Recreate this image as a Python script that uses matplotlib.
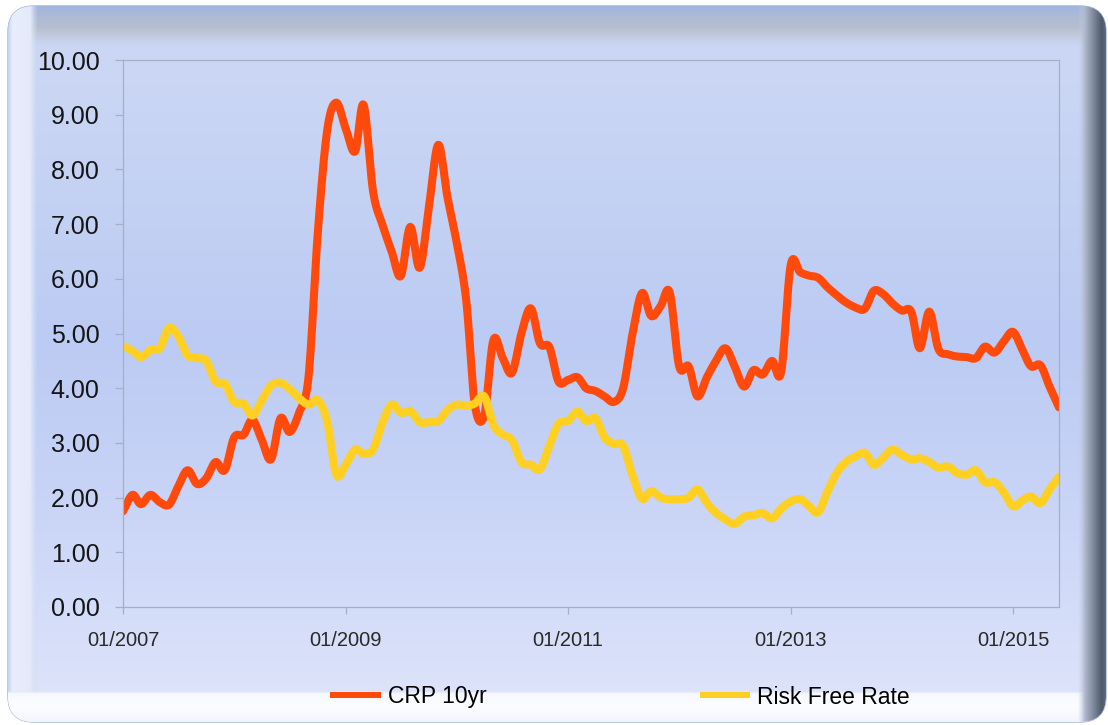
import numpy as np
import pandas as pd
import matplotlib
matplotlib.use('Agg')
import matplotlib.pyplot as plt
import matplotlib.dates as mdates
from matplotlib.patches import FancyBboxPatch
from matplotlib.colors import to_rgb

plt.rcParams['font.family'] = ['Liberation Sans', 'DejaVu Sans']

# Datos mensuales 01/2007 - 06/2015
fechas = pd.date_range('2007-01-01', periods=102, freq='MS')

crp_10yr = [
    1.75, 2.05, 1.88, 2.05, 1.92, 1.87, 2.20, 2.50, 2.25, 2.35,
    2.65, 2.50, 3.10, 3.15, 3.42, 3.05, 2.70, 3.45, 3.20, 3.55,
    4.20, 6.80, 8.70, 9.22, 8.75, 8.33, 9.18, 7.60, 7.00, 6.50,
    6.05, 6.95, 6.20, 7.30, 8.45, 7.50, 6.65, 5.60, 3.70, 3.50,
    4.88, 4.55, 4.28, 5.00, 5.46, 4.82, 4.75, 4.12, 4.15, 4.20,
    4.00, 3.95, 3.85, 3.75, 4.00, 5.00, 5.74, 5.32, 5.50, 5.75,
    4.40, 4.40, 3.85, 4.20, 4.50, 4.73, 4.40, 4.03, 4.33, 4.25,
    4.50, 4.30, 6.25, 6.12, 6.06, 6.02, 5.85, 5.70, 5.57, 5.48,
    5.45, 5.78, 5.72, 5.55, 5.42, 5.40, 4.73, 5.40, 4.72, 4.62,
    4.58, 4.57, 4.55, 4.76, 4.65, 4.85, 5.03, 4.70, 4.40, 4.42,
    4.03, 3.65,
]

risk_free = [
    4.77, 4.68, 4.57, 4.70, 4.73, 5.10, 4.95, 4.60, 4.55, 4.50,
    4.12, 4.08, 3.75, 3.72, 3.50, 3.78, 4.05, 4.10, 3.98, 3.82,
    3.70, 3.78, 3.40, 2.42, 2.60, 2.88, 2.80, 2.88, 3.36, 3.70,
    3.55, 3.58, 3.38, 3.38, 3.40, 3.60, 3.70, 3.68, 3.72, 3.85,
    3.33, 3.15, 3.05, 2.65, 2.60, 2.52, 2.95, 3.35, 3.40, 3.57,
    3.40, 3.45, 3.10, 2.98, 2.95, 2.40, 1.98, 2.12, 2.00, 1.97,
    1.97, 2.00, 2.15, 1.90, 1.72, 1.60, 1.52, 1.65, 1.68, 1.72,
    1.62, 1.80, 1.93, 1.97, 1.85, 1.73, 2.10, 2.45, 2.65, 2.75,
    2.82, 2.60, 2.73, 2.88, 2.78, 2.70, 2.72, 2.65, 2.55, 2.57,
    2.45, 2.42, 2.50, 2.28, 2.28, 2.10, 1.84, 1.95, 2.02, 1.90,
    2.15, 2.38,
]

series = ['CRP 10yr', 'Risk Free Rate']
colores = ['#FF4A0C', '#FFD022']
fechas_ticks = pd.to_datetime(['2007-01-01', '2009-01-01', '2011-01-01',
                               '2013-01-01', '2015-01-01'])


def suavizar(x, y, n=12):
    # curva tipo Catmull-Rom (linea suavizada como en Excel)
    x = np.asarray(x, float)
    y = np.asarray(y, float)
    px = np.concatenate([[2 * x[0] - x[1]], x, [2 * x[-1] - x[-2]]])
    py = np.concatenate([[2 * y[0] - y[1]], y, [2 * y[-1] - y[-2]]])
    t = np.linspace(0, 1, n, endpoint=False)
    sx, sy = [], []
    for i in range(1, len(px) - 2):
        for p, out in ((px, sx), (py, sy)):
            p0, p1, p2, p3 = p[i - 1], p[i], p[i + 1], p[i + 2]
            out.append(0.5 * (2 * p1 + (-p0 + p2) * t
                              + (2 * p0 - 5 * p1 + 4 * p2 - p3) * t ** 2
                              + (-p0 + 3 * p1 - 3 * p2 + p3) * t ** 3))
    sx.append([x[-1]])
    sy.append([y[-1]])
    return np.concatenate(sx), np.concatenate(sy)


def gradiente(ax, x0, x1, y0, y1, paradas, vertical=True, clip=None):
    pos = np.linspace(0, 1, 256)
    fr = [p[0] for p in paradas]
    rgba = np.zeros((256, 4))
    for k in range(3):
        rgba[:, k] = np.interp(pos, fr, [to_rgb(p[1])[k] for p in paradas])
    rgba[:, 3] = np.interp(pos, fr, [p[2] if len(p) > 2 else 1 for p in paradas])
    img = rgba[:, None, :] if vertical else rgba[None, :, :]
    im = ax.imshow(img, extent=(x0, x1, y1, y0), origin='upper',
                   aspect='auto', interpolation='bilinear', zorder=1)
    if clip is not None:
        im.set_clip_path(clip)
    return im


W, H = 1108, 725
fig = plt.figure(figsize=(W / 100, H / 100), dpi=100)
fig.patch.set_facecolor('white')

# Fondo: panel redondeado con biselado
bg = fig.add_axes([0, 0, 1, 1], zorder=0)
bg.set_axis_off()
panel = FancyBboxPatch((8, 6), 1098, 716, boxstyle='round,pad=0,rounding_size=26',
                       facecolor='#C9D3EC', edgecolor='#A3B2D2', linewidth=1, zorder=0)
bg.add_patch(panel)

gradiente(bg, 8, 1106, 6, 722,
          [(0, '#C8D4F2'), (0.08, '#CBD7F4'), (0.47, '#BCCBF3'),
           (0.65, '#C6D2F6'), (0.96, '#DCE3FA'), (1, '#DCE3FA')], clip=panel)
# biselado superior
gradiente(bg, 8, 1106, 6, 46,
          [(0, '#A1B5DD'), (0.25, '#ACBAD6'), (0.55, '#B7BFCF'),
           (0.85, '#C4CCDD', 0.6), (1, '#CAD6F2', 0)], clip=panel)
# biselado izquierdo
gradiente(bg, 8, 38, 6, 722,
          [(0, '#C4D2F0'), (0.15, '#E8EEFB'), (0.75, '#E4EAF9'), (1, '#D0DAF5', 0)],
          vertical=False, clip=panel)
# biselado inferior
gradiente(bg, 8, 1106, 690, 722,
          [(0, '#D8E0F9', 0), (0.1, '#F6F8FE'), (0.5, '#FCFDFF'), (1, '#F2F5FC')],
          clip=panel)
# biselado derecho
gradiente(bg, 1078, 1106, 6, 722,
          [(0, '#C6D0EA', 0), (0.25, '#AEB7CB'), (0.55, '#7F899D'),
           (0.85, '#4F5A6D'), (1, '#5E6A80')],
          vertical=False, clip=panel)
bg.set_xlim(0, W)
bg.set_ylim(H, 0)

# Area de grafico
ax = fig.add_axes([123 / W, 1 - 607 / H, (1059 - 123) / W, (607 - 60) / H], zorder=1)
ax.set_facecolor('none')

x_num = mdates.date2num(fechas)
for nombre, valores, color in zip(series, [crp_10yr, risk_free], colores):
    sx, sy = suavizar(x_num, valores)
    ax.plot(sx, sy, color=color, linewidth=5.8, label=nombre,
            solid_capstyle='round', solid_joinstyle='round')

ax.xaxis_date()
ax.set_xlim(x_num[0], x_num[-1])
ax.set_ylim(0, 10)
ax.set_yticks(np.arange(0, 11, 1))
ax.yaxis.set_major_formatter(plt.FormatStrFormatter('%.2f'))
ax.set_xticks(mdates.date2num(fechas_ticks))
ax.xaxis.set_major_formatter(mdates.DateFormatter('%m/%Y'))

for s in ax.spines.values():
    s.set_color('#A7AFC4')
    s.set_linewidth(0.9)
ax.tick_params(axis='y', length=6, width=0.9, color='#A7AFC4', pad=11,
               labelsize=18, labelcolor='#151515')
ax.tick_params(axis='x', length=5, width=0.9, color='#A7AFC4', pad=12,
               labelsize=14.5, labelcolor='#2A2A2A')

leg = fig.legend(loc='center', bbox_to_anchor=(620 / W, 1 - 697 / H), ncol=2,
                 frameon=False, fontsize=16.5, handlelength=2.2, handletextpad=0.3,
                 columnspacing=9.3)
for linea in leg.get_lines():
    linea.set_linewidth(4.3)
    linea.set_solid_capstyle('butt')

fig.savefig('out.png', dpi=100)
